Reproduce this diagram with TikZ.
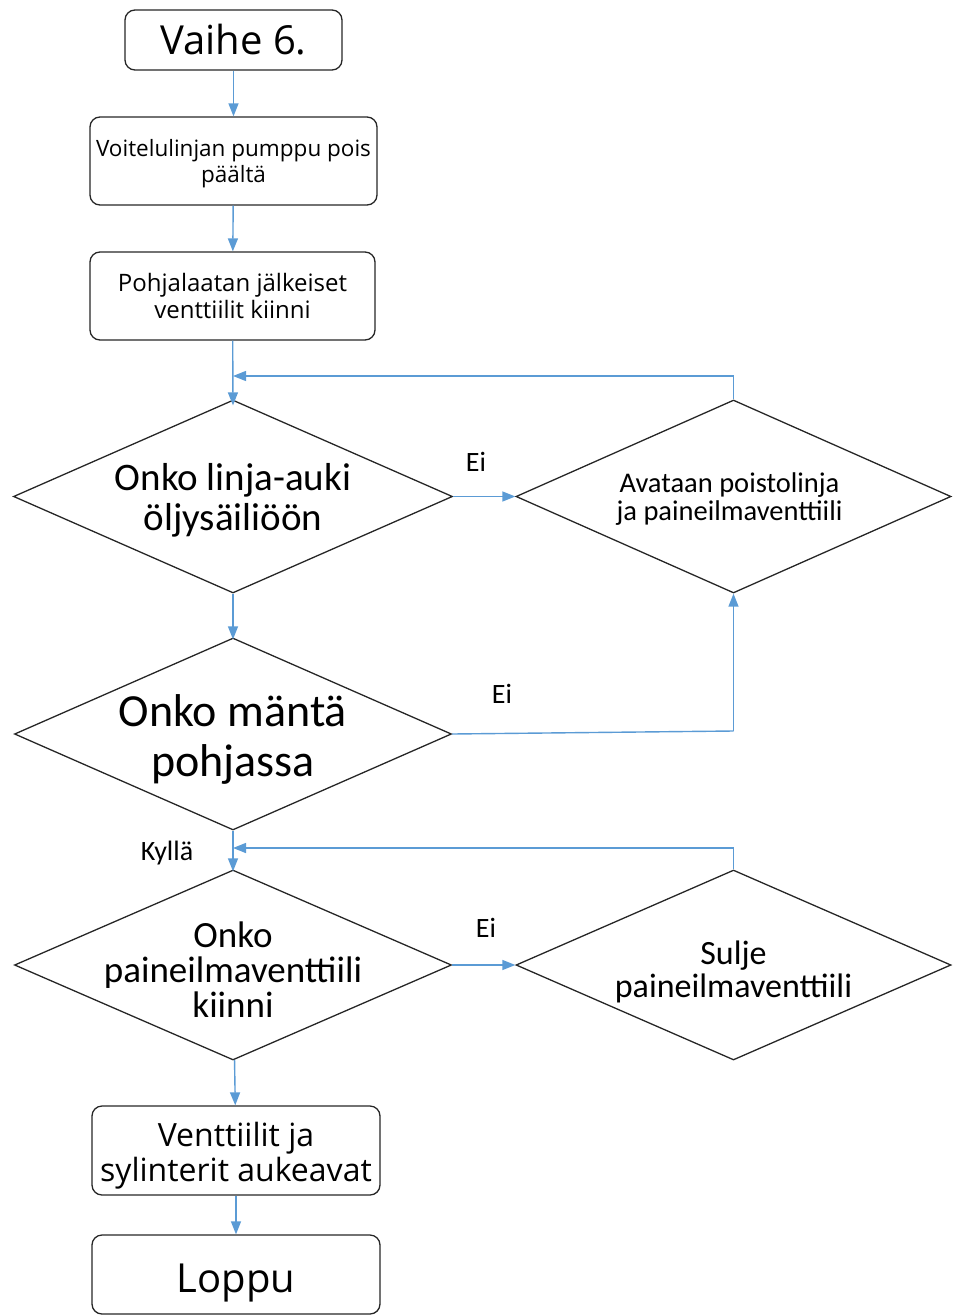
\documentclass[tikz,border=0pt]{standalone}
\usepackage{fontspec}
\setmainfont{Open Sans}
\newfontfamily\calfont{Carlito}
\usetikzlibrary{shapes.geometric,arrows.meta}
\definecolor{arr}{HTML}{5B9BD5}
\definecolor{edgec}{HTML}{262626}
\newcommand{\fs}[2]{\fontsize{#1}{#2}\selectfont}
\begin{document}
\begin{tikzpicture}[x=1pt,y=-1pt,
 boxnode/.style={draw=edgec,line width=1.3pt,rounded corners=10pt,inner sep=0pt,align=center},
 dia/.style={draw=edgec,line width=1.3pt,diamond,inner sep=0pt},
 dtext/.style={align=center,inner sep=0pt},
 conn/.style={draw=arr,line width=1.4pt,-{Triangle[length=13pt,width=10pt]}},
 plain/.style={draw=arr,line width=1.4pt},
 lbl/.style={font=\calfont\fs{28}{30},inner sep=0pt}]
\useasboundingbox (0,0) rectangle (954,1316);
% boxes
\node[boxnode,minimum width=217pt,minimum height=60pt,font=\fs{40}{46}] (b1) at (233.5,40) {Vaihe 6.};
\node[boxnode,minimum width=287pt,minimum height=88pt] (b2) at (233.5,161) {};
\node[dtext,font=\fs{22.5}{26}] (t2) at ([yshift=-3pt]b2.center) {Voitelulinjan pumppu pois\\päältä};
\node[boxnode,minimum width=285pt,minimum height=88pt,font=\fs{24}{27}] (b3) at (232.5,296) {Pohjalaatan jälkeiset\\venttiilit kiinni};
\node[boxnode,minimum width=288pt,minimum height=89pt] (b6) at (236,1150.5) {};
\node[dtext,font=\fs{32}{35}] (t6) at ([yshift=-5pt]b6.center) {Venttiilit ja\\sylinterit aukeavat};
\node[boxnode,minimum width=288pt,minimum height=79pt] (b7) at (236,1274.5) {};
\node[dtext,font=\fs{40}{46}] (t7) at ([yshift=-9pt]b7.center) {Loppu};
% diamonds
\node[dia,minimum width=439pt,minimum height=193pt] (d1) at (233,496.5) {};
\node[dtext,font=\calfont\fs{39}{40}] (t11) at ([yshift=-4pt]d1.center) {Onko linja-auki\\öljysäiliöön};
\node[dia,minimum width=435pt,minimum height=193pt] (d2) at (733.5,496.5) {};
\node[dtext,font=\calfont\fs{28.5}{28}] (t12) at ([xshift=-4pt,yshift=-3pt]d2.center) {Avataan poistolinja\\ja paineilmaventtiili};
\node[dia,minimum width=437pt,minimum height=192pt] (d3) at (233,734) {};
\node[dtext,font=\calfont\fs{46}{50}] (t13) at ([yshift=-5pt]d3.center) {Onko mäntä\\pohjassa};
\node[dia,minimum width=437pt,minimum height=190pt] (d4) at (233,965) {};
\node[dtext,font=\calfont\fs{37}{35}] (t14) at ([yshift=-5pt]d4.center) {Onko\\paineilmaventtiili\\kiinni};
\node[dia,minimum width=435pt,minimum height=190pt] (d5) at (733.5,965) {};
\node[dtext,font=\calfont\fs{34}{33}] (t15) at ([yshift=-6.5pt]d5.center) {Sulje\\paineilmaventtiili};
% labels
\node[lbl] (e1) at (476,462) {Ei};
\node[lbl] (e2) at (502,694) {Ei};
\node[lbl] (e3) at (486,928) {Ei};
\node[lbl] (ky) at (167,853) {Kyllä};
% coordinates
\coordinate (c1) at (233,376);
\coordinate (c2) at (233,848);
\coordinate (c3) at (733.5,731);
% connectors
\draw[conn] (b1) -- (b2);
\draw[conn] (b2) -- (b3);
\draw[conn] (b3) -- ([yshift=-6pt]d1.north);
\draw[conn] (d2.north) |- (c1);
\draw[conn] (d1.east) -- (d2.west);
\draw[conn] (d1) -- ([yshift=-2pt]d3.north);
\draw[plain] (d3.east) -- (c3);
\draw[conn] (c3) -- (d2.south);
\draw[conn] (d3) -- ([yshift=-2pt]d4.north);
\draw[conn] (d5.north) |- (c2);
\draw[conn] (d4.east) -- (d5.west);
\draw[conn] (d4) -- (b6);
\draw[conn] (b6) -- (b7);
\end{tikzpicture}
\end{document}
